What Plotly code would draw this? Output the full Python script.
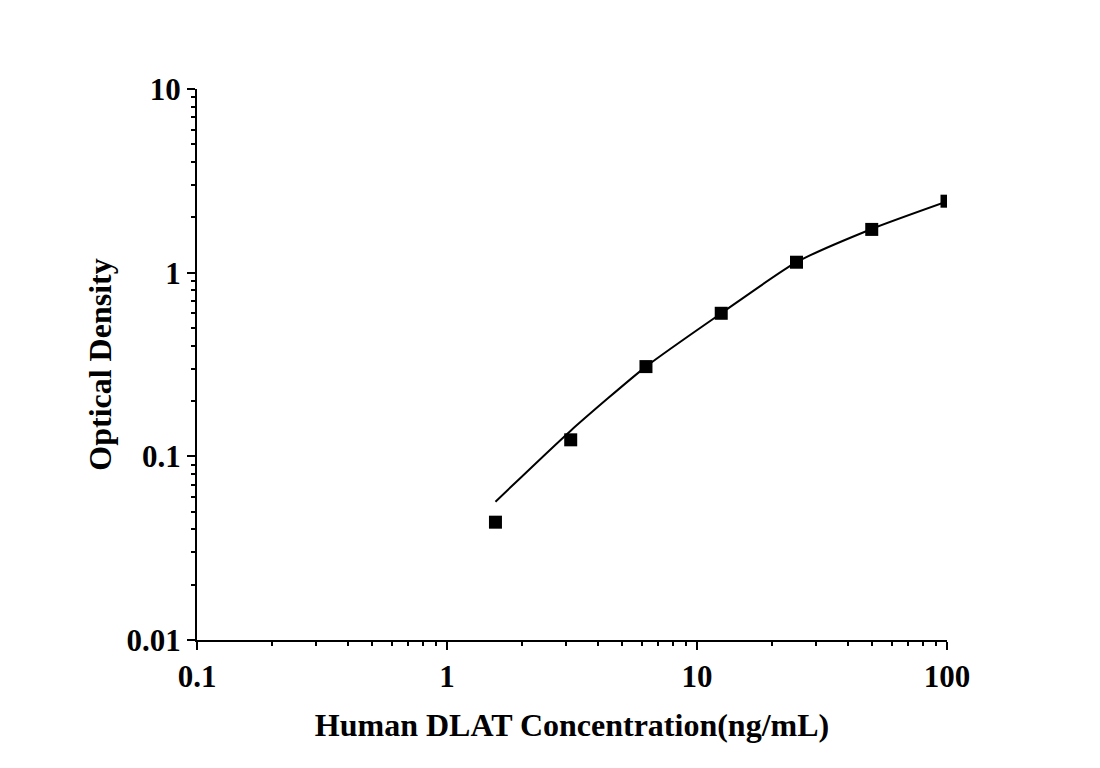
import plotly.graph_objects as go

# standard concentrations (ng/mL) and measured OD
conc = [1.5625, 3.125, 6.25, 12.5, 25, 50, 100]
od = [0.0438, 0.123, 0.308, 0.601, 1.14, 1.72, 2.45]

# fitted curve at the same concentrations
fit_conc = [1.5625, 3.125, 6.25, 12.5, 25, 50, 100]
fit_od = [0.0566, 0.138, 0.308, 0.601, 1.14, 1.73, 2.44]

xticks = [0.1, 1, 10, 100]
xtext = ["0.1", "1", "10", "100"]
yticks = [0.01, 0.1, 1, 10]
ytext = ["0.01", "0.1", "1", "10"]

font = "Liberation Serif"

fig = go.Figure()
fig.add_trace(go.Scatter(x=fit_conc, y=fit_od, mode="lines",
                         line=dict(color="black", width=2, shape="spline", smoothing=0.6),
                         showlegend=False))
fig.add_trace(go.Scatter(x=conc, y=od, mode="markers",
                         marker=dict(symbol="square", size=13, color="black"),
                         showlegend=False))

axis_common = dict(type="log", showgrid=False, zeroline=False,
                   showline=True, linecolor="black", linewidth=2,
                   ticks="outside", ticklen=8, tickwidth=2, tickcolor="black",
                   minor=dict(ticks="outside", ticklen=4, tickwidth=1.5,
                              tickcolor="black", dtick="D1", showgrid=False),
                   tickfont=dict(family=font, size=31, color="black"))

fig.update_xaxes(**axis_common, range=[-1, 2], tickvals=xticks,
                 ticktext=["<b>%s</b>" % t for t in xtext],
                 title=dict(text="<b>Human DLAT Concentration(ng/mL)</b>",
                            font=dict(family=font, size=32, color="black"),
                            standoff=20))
fig.update_yaxes(**axis_common, range=[-2, 1], tickvals=yticks,
                 ticktext=["<b>%s</b>" % t for t in ytext],
                 title=dict(text="<b>Optical Density</b>",
                            font=dict(family=font, size=32, color="black"),
                            standoff=5))

fig.update_layout(width=1100, height=768, plot_bgcolor="white", paper_bgcolor="white",
                  margin=dict(l=189, r=161, t=81, b=136),
                  font=dict(family=font, color="black"))

fig.write_html("out.html")
